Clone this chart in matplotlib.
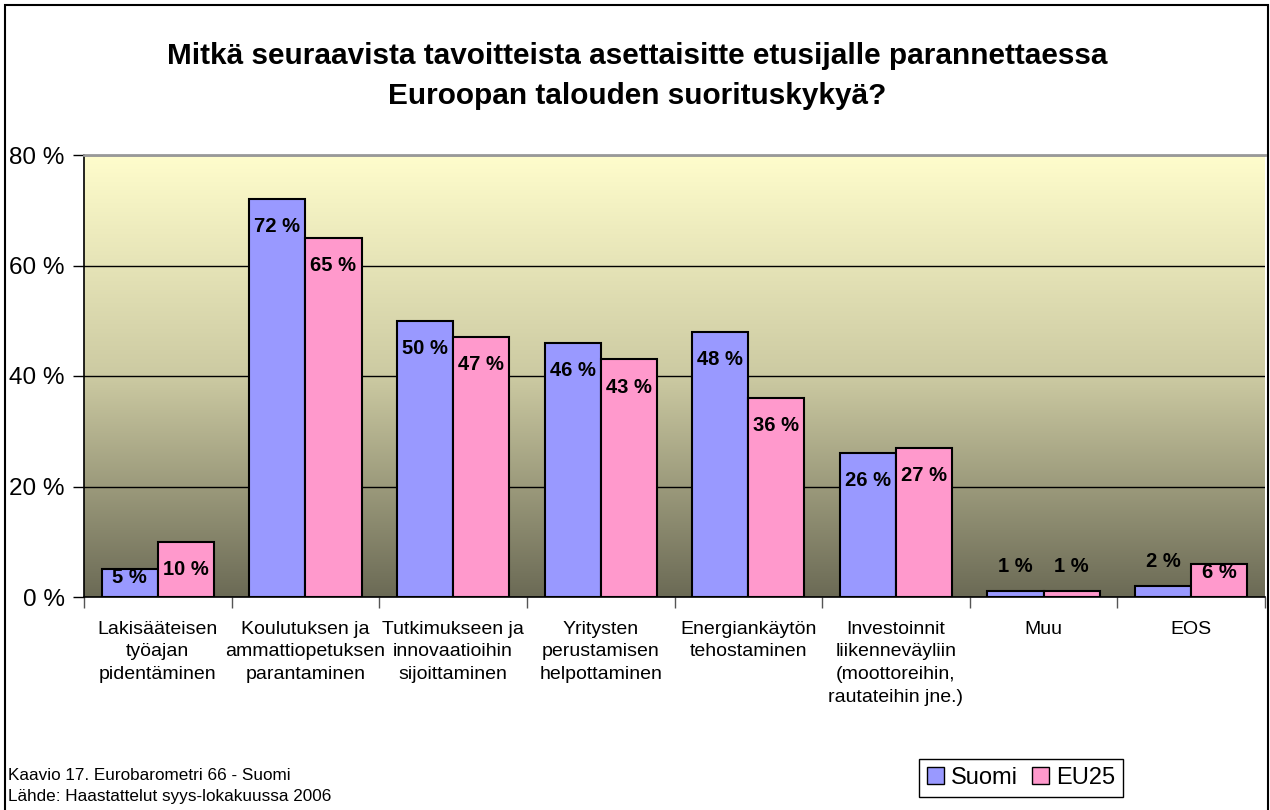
import matplotlib.pyplot as plt
import numpy as np
from matplotlib.colors import LinearSegmentedColormap
from matplotlib.patches import Rectangle, Patch

plt.rcParams['font.family'] = ['Liberation Sans', 'DejaVu Sans']

# Data
categories = ["Lakisääteisen\ntyöajan\npidentäminen",
              "Koulutuksen ja\nammattiopetuksen\nparantaminen",
              "Tutkimukseen ja\ninnovaatioihin\nsijoittaminen",
              "Yritysten\nperustamisen\nhelpottaminen",
              "Energiankäytön\ntehostaminen",
              "Investoinnit\nliikenneväyliin\n(moottoreihin,\nrautateihin jne.)",
              "Muu",
              "EOS"]
suomi = [5, 72, 50, 46, 48, 26, 1, 2]
eu25 = [10, 65, 47, 43, 36, 27, 1, 6]
yticks = [0, 20, 40, 60, 80]

fig = plt.figure(figsize=(12.7, 8.1), dpi=100)
ax = fig.add_axes([84 / 1270, 213 / 810, (1265 - 84) / 1270, (597 - 155) / 810])

# gradient background of the plot area
cmap = LinearSegmentedColormap.from_list(
    'bg', [(0.0, '#6b6a55'), (0.5, '#cccaa2'), (1.0, '#fffdcc')])
grad = np.linspace(1, 0, 256).reshape(-1, 1)
ax.imshow(grad, cmap=cmap, aspect='auto', extent=[-0.5, 7.5, 0, 80], zorder=0)

x = np.arange(len(categories))
w = 0.38
ax.bar(x - w / 2, suomi, w, color='#9999FF', edgecolor='black', lw=1.5, zorder=3)
ax.bar(x + w / 2, eu25, w, color='#FF99CC', edgecolor='black', lw=1.5, zorder=3)


def label_y(v):
    if v >= 10:
        return v - 5
    if v >= 4:
        return v - 1.5
    return v + 4.5


for xs, vals in ((x - w / 2, suomi), (x + w / 2, eu25)):
    for xi, v in zip(xs, vals):
        ax.text(xi, label_y(v), f"{v} %", ha='center', va='center',
                fontsize=14.5, fontweight='bold', zorder=4)

ax.set_xlim(-0.5, 7.5)
ax.set_ylim(0, 80)
ax.set_yticks(yticks)
ax.set_yticklabels([f"{t} %" for t in yticks], fontsize=17.5)
ax.yaxis.grid(True, color='black', lw=1)
ax.set_axisbelow(True)
ax.tick_params(axis='y', direction='out', length=8, width=1, pad=6)

ax.set_xticks(x)
ax.set_xticklabels(categories, fontsize=14, linespacing=1.44, va='top')
ax.set_xticks(np.arange(-0.5, 8, 1), minor=True)
ax.tick_params(axis='x', which='major', length=0, pad=17)
ax.tick_params(axis='x', which='minor', direction='out', length=8, width=1, color='#555555')

for s in ('left', 'bottom'):
    ax.spines[s].set_color('black')
    ax.spines[s].set_linewidth(1.2)
ax.spines['top'].set_color('#999999')
ax.spines['top'].set_linewidth(2)
ax.spines['right'].set_visible(False)

fig.text(0.502, 0.906,
         "Mitkä seuraavista tavoitteista asettaisitte etusijalle parannettaessa\nEuroopan talouden suorituskykyä?",
         ha='center', va='center', fontsize=21.4, fontweight='bold', linespacing=1.53)

fig.text(8 / 1270, 1 - 775 / 810, "Kaavio 17. Eurobarometri 66 - Suomi", fontsize=12.3, va='center')
fig.text(8 / 1270, 1 - 797 / 810, "Lähde: Haastattelut syys-lokakuussa 2006", fontsize=12.3, va='center')

handles = [Patch(facecolor='#9999FF', edgecolor='black', label='Suomi'),
           Patch(facecolor='#FF99CC', edgecolor='black', label='EU25')]
leg = fig.legend(handles=handles, loc='center', bbox_to_anchor=(1021 / 1270, 1 - 778 / 810),
                 ncol=2, fontsize=17, fancybox=False, framealpha=1, edgecolor='black',
                 handlelength=0.7, handleheight=0.7, handletextpad=0.3,
                 columnspacing=0.6, borderpad=0.35, borderaxespad=0)
leg.get_frame().set_linewidth(1)

fig.patches.append(Rectangle((5 / 1270, -0.01), (1268 - 5) / 1270, 1 - 5 / 810 + 0.01,
                             transform=fig.transFigure, fill=False,
                             edgecolor='black', lw=1.5))

fig.savefig('out.png', dpi=100)
